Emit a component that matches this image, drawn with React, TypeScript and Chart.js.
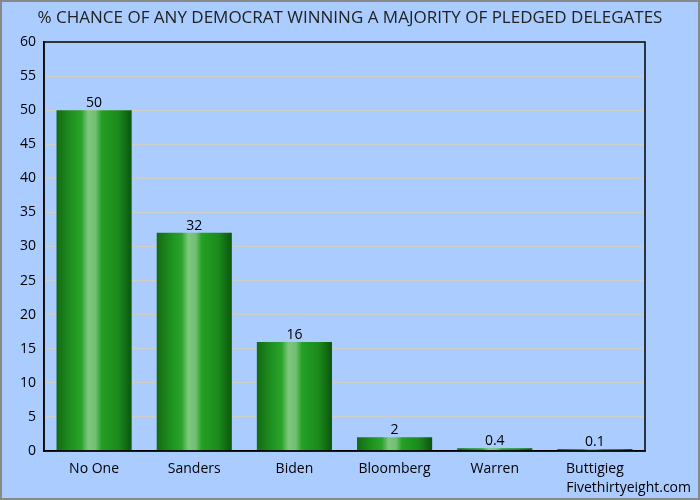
import React, { useEffect, useRef } from 'react';
import { Chart, registerables } from 'chart.js';

Chart.register(...registerables);

const candidates = ['No One', 'Sanders', 'Biden', 'Bloomberg', 'Warren', 'Buttigieg'];
const chances = [50, 32, 16, 2, 0.4, 0.1];

const TITLE = '% CHANCE OF ANY DEMOCRAT WINNING A MAJORITY OF PLEDGED DELEGATES';
const SOURCE = 'Fivethirtyeight.com';
const FONT = "'Open Sans', sans-serif";
const BG = '#aaccff';

// background, frame, title, plot border, value labels, source
const decorPlugin = {
  id: 'decor',
  beforeDraw(chart: Chart) {
    const { ctx, width, height } = chart;
    ctx.save();
    ctx.fillStyle = BG;
    ctx.fillRect(0, 0, width, height);
    ctx.restore();
  },
  afterDraw(chart: Chart) {
    const { ctx, width, height, chartArea } = chart;
    ctx.save();
    // plot border
    ctx.strokeStyle = '#000';
    ctx.lineWidth = 1.5;
    ctx.strokeRect(chartArea.left, chartArea.top, chartArea.right - chartArea.left, chartArea.bottom - chartArea.top);

    // title
    ctx.fillStyle = '#222';
    ctx.font = `17px ${FONT}`;
    ctx.textAlign = 'center';
    ctx.textBaseline = 'middle';
    ctx.fillText(TITLE, width / 2, 18);

    // value labels
    const meta = chart.getDatasetMeta(0);
    ctx.font = `14px ${FONT}`;
    ctx.fillStyle = '#000';
    ctx.textBaseline = 'bottom';
    meta.data.forEach((bar: any, i: number) => {
      ctx.fillText(String(chances[i]), bar.x, bar.y);
    });

    // source
    ctx.font = `14px ${FONT}`;
    ctx.fillStyle = '#000';
    ctx.textAlign = 'right';
    ctx.textBaseline = 'middle';
    ctx.fillText(SOURCE, 691, 488);

    // outer frame
    ctx.strokeStyle = '#888';
    ctx.lineWidth = 2;
    ctx.strokeRect(1, 1, width - 2, height - 2);
    ctx.restore();
  },
};

const barGradient = (c: any) => {
  const chart = c.chart;
  const xScale = chart.scales.x;
  if (!xScale || !chart.chartArea) return '#229922';
  const center = xScale.getPixelForValue(c.dataIndex);
  const half = ((chart.chartArea.right - chart.chartArea.left) / candidates.length) * 0.75 / 2;
  const g = chart.ctx.createLinearGradient(center - half, 0, center + half, 0);
  g.addColorStop(0, '#136b13');
  g.addColorStop(0.2, '#1f921f');
  g.addColorStop(0.33, '#2ba32b');
  g.addColorStop(0.42, '#7fc77f');
  g.addColorStop(0.52, '#72bf72');
  g.addColorStop(0.6, '#24a024');
  g.addColorStop(0.82, '#1c8a1c');
  g.addColorStop(1, '#0b560b');
  return g;
};

export default function App() {
  const canvasRef = useRef<HTMLCanvasElement | null>(null);

  useEffect(() => {
    if (!canvasRef.current) return;
    const chart = new Chart(canvasRef.current, {
      type: 'bar',
      plugins: [decorPlugin],
      data: {
        labels: candidates,
        datasets: [{
          data: chances,
          backgroundColor: barGradient,
          borderWidth: 0,
          categoryPercentage: 1,
          barPercentage: 0.75,
          minBarLength: 2,
        }],
      },
      options: {
        responsive: false,
        animation: false,
        devicePixelRatio: 1,
        layout: { padding: { top: 42, right: 55, left: 0, bottom: 0 } },
        plugins: {
          legend: { display: false },
          tooltip: { enabled: false },
          title: { display: false },
        },
        scales: {
          x: {
            grid: { display: false },
            border: { display: true, color: '#000', width: 1.5 },
            ticks: { color: '#000', font: { family: FONT, size: 14 }, padding: 2 },
            afterFit: (s: any) => { s.height = 49; },
          },
          y: {
            min: 0,
            max: 60,
            grid: { color: '#cfcfc8', drawTicks: false, lineWidth: 1 },
            border: { display: true, color: '#000', width: 1.5 },
            ticks: {
              stepSize: 5,
              color: '#000',
              font: { family: FONT, size: 14 },
              padding: 8,
            },
            afterFit: (s: any) => { s.width = 44; },
          },
        },
      } as any,
    });
    return () => chart.destroy();
  }, []);

  return (
    <div style={{ position: 'absolute', left: 0, top: 0, width: 700, height: 500 }}>
      <canvas ref={canvasRef} width={700} height={500} />
    </div>
  );
}
